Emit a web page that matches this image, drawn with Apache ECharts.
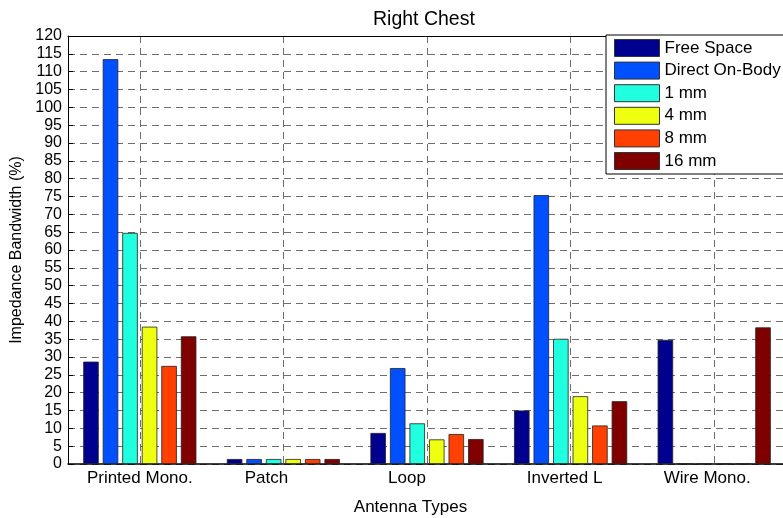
<!DOCTYPE html>
<html><head><meta charset="utf-8">
<script src="https://cdn.jsdelivr.net/npm/echarts@6/dist/echarts.min.js"></script>
<style>html,body{margin:0;padding:0;background:#fff}#c{width:783px;height:518px}</style>
</head><body><div id="c"></div>
<script>
const categories = ['Printed Mono.', 'Patch', 'Loop', 'Inverted L', 'Wire Mono.'];
const seriesNames = ['Free Space', 'Direct On-Body', '1 mm', '4 mm', '8 mm', '16 mm'];
const freeSpace    = [28.7, 1.4,  8.7, 15.0, 34.8];
const directOnBody = [113.5, 1.4, 26.9, 75.4, 0];
const mm1          = [64.8, 1.4, 11.4, 35.1, 0];
const mm4          = [38.5, 1.4,  6.9, 19.0, 0];
const mm8          = [27.5, 1.4,  8.4, 10.8, 0];
const mm16         = [35.8, 1.4,  7.0, 17.6, 38.3];
const yMin = 0, yMax = 120, yStep = 5;
const titleText = 'Right Chest';
const xName = 'Antenna Types';
const yName = 'Impedance Bandwidth (%)';

const seriesValues = [freeSpace, directOnBody, mm1, mm4, mm8, mm16];
const colors = ['#00008F', '#0050FF', '#20FFDF', '#EFFF10', '#FF4000', '#800000'];
const FONT = 'Liberation Sans, Arial, Helvetica, sans-serif';
const labelPad = [0, 34, 40, 12, 14];
const rich = {};
labelPad.forEach((p, i) => { rich['p' + i] = { fontSize: 17, color: '#000', fontFamily: FONT, padding: [0, p, 0, 0] }; });
// helper ticks: half-category positions so that odd ones sit on category centres
const helperTicks = [];
for (let i = 0; i <= categories.length * 2; i++) helperTicks.push(String(i));

const gridDash = { color: '#6e6e6e', width: 1, type: [7, 5] };

const chart = echarts.init(document.getElementById('c'), null, { renderer: 'canvas' });
chart.setOption({
  animation: false,
  backgroundColor: '#fff',
  textStyle: { fontFamily: FONT },
  title: {
    text: titleText, left: 373, top: 10, padding: 0,
    textStyle: { fontSize: 19.5, fontWeight: 'normal', color: '#000', fontFamily: FONT }
  },
  legend: {
    data: seriesNames, orient: 'vertical', left: 606, top: 35,
    padding: [4, 40, 4, 8], itemWidth: 45, itemHeight: 17, itemGap: 4.6,
    icon: 'rect', backgroundColor: '#fff', borderColor: '#000', borderWidth: 1,
    itemStyle: { borderColor: '#333', borderWidth: 1 },
    textStyle: { fontSize: 17, color: '#000', fontFamily: FONT, lineHeight: 17 },
    z: 10
  },
  grid: { left: 68, top: 36, width: 718, height: 428, containLabel: false, outerBoundsMode: 'none' },
  xAxis: [{
    type: 'category', data: categories, position: 'bottom',
    axisLine: { show: true, lineStyle: { color: '#000', width: 1.5 } },
    axisTick: { show: false },
    splitLine: { show: false },
    axisLabel: {
      margin: 6, interval: 0,
      formatter: (v, i) => '{p' + i + '|' + v + '}',
      rich: rich
    },
    name: xName, nameLocation: 'middle', nameGap: 35,
    nameTextStyle: { fontSize: 17, color: '#000', fontFamily: FONT, padding: [0, 33, 0, 0] }
  }, {
    type: 'category', data: helperTicks, position: 'top', boundaryGap: false,
    axisLine: { show: true, lineStyle: { color: '#000', width: 1 } },
    axisTick: { show: false }, axisLabel: { show: false },
    splitLine: { show: true, interval: (i) => i % 2 === 1, lineStyle: gridDash }
  }],
  yAxis: {
    type: 'value', min: yMin, max: yMax, interval: yStep,
    axisLine: { show: true, lineStyle: { color: '#000', width: 1 } },
    axisTick: { show: true, inside: true, length: 5, lineStyle: { color: '#000' } },
    axisLabel: { fontSize: 16, color: '#000', margin: 6, fontFamily: FONT },
    splitLine: { show: true, lineStyle: gridDash },
    name: yName, nameLocation: 'middle', nameGap: 40,
    nameTextStyle: { fontSize: 16, color: '#000', fontFamily: FONT }
  },
  series: seriesNames.map((n, k) => ({
    name: n, type: 'bar', xAxisIndex: 0, data: seriesValues[k],
    barWidth: 15.5, barGap: '26%',
    itemStyle: { color: colors[k], borderColor: '#222', borderWidth: 0.8 }
  }))
});
</script></body></html>
